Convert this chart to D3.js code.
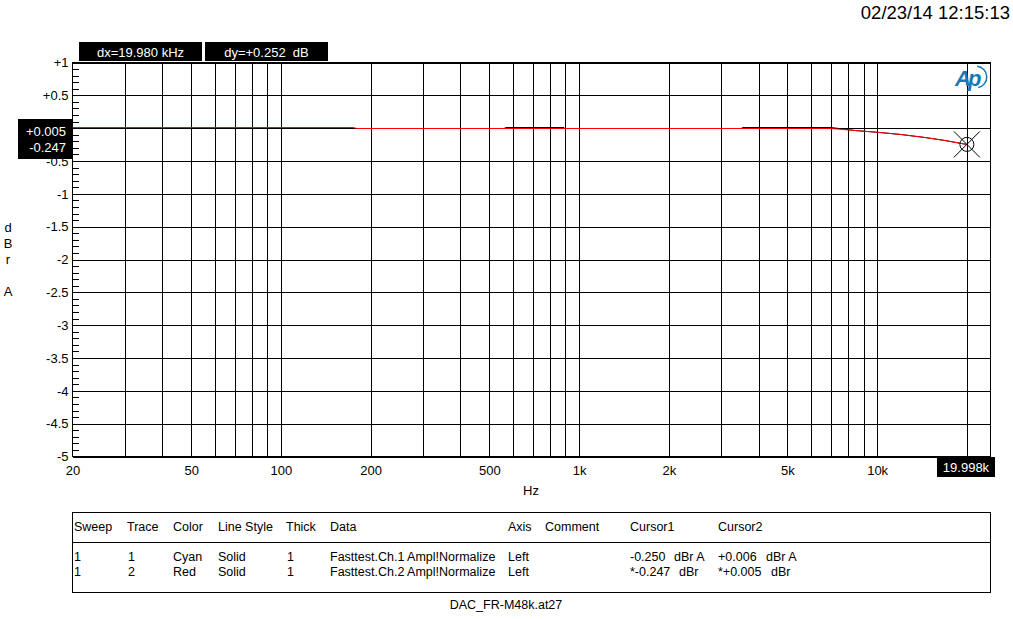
<!DOCTYPE html>
<html><head><meta charset="utf-8">
<script src="https://cdn.jsdelivr.net/npm/d3@7"></script>
<style>
body{margin:0;background:#fff;}
svg{display:block;font-family:"Liberation Sans",Arial,sans-serif;}
</style></head><body>
<svg id="c" width="1013" height="619"></svg>
<script>
// ---- data ----
const freqs = [20, 50, 100, 175, 180, 300, 560, 570, 890, 900, 1500, 3500, 3560, 5000, 7000, 8400, 10200, 12000, 14500, 16900, 19998];
const ch1   = [-0.005, -0.005, -0.005, -0.005, -0.005, -0.005, -0.005, 0.010, 0.010, -0.005, -0.005, -0.005, 0.010, 0.010, 0.010, -0.038, -0.068, -0.096, -0.141, -0.185, -0.250];
const ch2   = [0.010, 0.010, 0.010, 0.010, -0.005, -0.005, -0.005, -0.005, -0.005, -0.005, -0.005, -0.005, -0.005, -0.005, -0.010, -0.040, -0.070, -0.095, -0.140, -0.183, -0.247];
const gridFreqs = [30,40,50,60,70,80,90,100,200,300,400,500,600,700,800,900,1000,2000,3000,4000,5000,6000,7000,8000,9000,10000,20000];
const xLabelFreqs = [20,50,100,200,500,1000,2000,5000,10000];
const xLabels = ["20","50","100","200","500","1k","2k","5k","10k"];
const yTicks = [1,0.5,0,-0.5,-1,-1.5,-2,-2.5,-3,-3.5,-4,-4.5,-5];
const yLabels = ["+1","+0.5","","-0.5","-1","-1.5","-2","-2.5","-3","-3.5","-4","-4.5","-5"];
const yMinor = d3.range(-50, 11).filter(v => v % 5 !== 0).map(v => v / 10);
const cursorFreq = 19998;
const cursorVal = -0.247;
const cursorTexts = ["dx=19.980 kHz", "dy=+0.252  dB"];
const leftBoxTexts = ["+0.005", "-0.247"];
const xCursorText = "19.998k";
const dateText = "02/23/14 12:15:13";
const tableHeader = ["Sweep","Trace","Color","Line Style","Thick","Data","Axis","Comment","Cursor1","Cursor2"];
const tableRows = [
  ["1","1","Cyan","Solid","1","Fasttest.Ch.1 Ampl!Normalize","Left","","-0.250","+0.006"],
  ["1","2","Red","Solid","1","Fasttest.Ch.2 Ampl!Normalize","Left","","*-0.247","*+0.005"]
];
const tableUnits = [["dBr A","dBr A"],["dBr","dBr"]];
const fileName = "DAC_FR-M48k.at27";

// ---- layout ----
const svg = d3.select("#c");
svg.append("rect").attr("width",1013).attr("height",619).attr("fill","#fff");
const L = 72.5, R = 990.5, T = 62.5, B = 456.5;
const x = d3.scaleLog().domain([20, 24000]).range([L, R]);
const y = d3.scaleLinear().domain([-5, 1]).range([B, T]);

// vertical grid
const gx = svg.append("g").attr("transform", `translate(0,${B})`)
  .call(d3.axisBottom(x).tickValues(gridFreqs).tickSize(-(B - T)).tickFormat(""));
gx.select(".domain").remove();
gx.selectAll("line").attr("stroke","#000").attr("shape-rendering","crispEdges");

// x labels
const gxl = svg.append("g").attr("transform", `translate(0,${B})`)
  .call(d3.axisBottom(x).tickValues(xLabelFreqs).tickSize(0).tickPadding(9)
    .tickFormat((d, i) => xLabels[i]));
gxl.select(".domain").remove();
gxl.selectAll("text").attr("font-size", 13).attr("font-family","Liberation Sans, Arial").attr("fill","#000");

// horizontal grid + labels
const gy = svg.append("g").attr("transform", `translate(${L},0)`)
  .call(d3.axisLeft(y).tickValues(yTicks).tickSize(-(R - L)).tickPadding(4)
    .tickFormat((d, i) => yLabels[i]));
gy.select(".domain").remove();
gy.selectAll("line").attr("stroke","#000").attr("shape-rendering","crispEdges");
gy.selectAll("text").attr("font-size", 13).attr("font-family","Liberation Sans, Arial").attr("fill","#000");

// minor ticks
const gm = svg.append("g").attr("transform", `translate(${L},0)`)
  .call(d3.axisLeft(y).tickValues(yMinor).tickSize(-6).tickFormat(""));
gm.select(".domain").remove();
gm.selectAll("line").attr("stroke","#000").attr("shape-rendering","crispEdges");

// frame
svg.append("rect").attr("x", L).attr("y", T).attr("width", R - L).attr("height", B - T)
  .attr("fill","none").attr("stroke","#000").attr("shape-rendering","crispEdges");

// traces (snapped to pixel rows)
const line = d3.line().x((d, i) => Math.round(x(freqs[i]))).y(d => Math.floor(y(d)) + 0.5);
svg.append("path").datum(ch1).attr("d", line).attr("fill","none").attr("stroke","#000")
  .attr("stroke-width",1);
svg.append("path").datum(ch2).attr("d", line).attr("fill","none").attr("stroke","#ff0000")
  .attr("stroke-width",1);

// cursor marker
const cx = x(cursorFreq), cy = y(cursorVal);
const mk = svg.append("g").attr("stroke","#000").attr("fill","none").attr("stroke-width",1);
mk.append("circle").attr("cx", cx).attr("cy", cy).attr("r", 7);
mk.append("line").attr("x1", cx - 13).attr("y1", cy - 13).attr("x2", cx + 13).attr("y2", cy + 13);
mk.append("line").attr("x1", cx - 13).attr("y1", cy + 13).attr("x2", cx + 13).attr("y2", cy - 13);

// logo
const logo = svg.append("g").attr("fill","#1a78b4");
logo.append("text").attr("x", 955).attr("y", 86).attr("font-size", 22).attr("font-style","italic")
  .attr("font-weight","bold").attr("font-family","Liberation Sans, Arial").attr("letter-spacing",-3).text("Ap");
logo.append("path").attr("d", d3.arc()({innerRadius: 10, outerRadius: 11.5, startAngle: 0.1, endAngle: Math.PI - 0.2}))
  .attr("transform","translate(976,77)");

// cursor boxes
const boxes = [[79, 42, 123, 19, cursorTexts[0]], [205, 42, 123, 19, cursorTexts[1]]];
boxes.forEach(b => {
  svg.append("rect").attr("x", b[0]).attr("y", b[1]).attr("width", b[2]).attr("height", b[3]).attr("fill","#000");
  svg.append("text").attr("x", b[0] + b[2] / 2).attr("y", b[1] + 14.5).attr("text-anchor","middle")
    .attr("font-size", 13).attr("fill","#fff").style("white-space","pre").text(b[4]);
});
svg.append("rect").attr("x", 18).attr("y", 119).attr("width", 54).attr("height", 40).attr("fill","#000");
leftBoxTexts.forEach((t, i) => {
  svg.append("text").attr("x", 66).attr("y", 136 + i * 16).attr("text-anchor","end")
    .attr("font-size", 13).attr("fill","#fff").text(t);
});
svg.append("rect").attr("x", 937).attr("y", 457).attr("width", 58).attr("height", 20).attr("fill","#000");
svg.append("text").attr("x", 966).attr("y", 472).attr("text-anchor","middle")
  .attr("font-size", 13).attr("fill","#fff").text(xCursorText);

// date
svg.append("text").attr("x", 1010).attr("y", 19).attr("text-anchor","end").attr("font-size", 18.5).text(dateText);

// axis titles
[["d",232],["B",248],["r",264],["A",296]].forEach(a => {
  svg.append("text").attr("x", 8).attr("y", a[1]).attr("text-anchor","middle").attr("font-size", 13).text(a[0]);
});
svg.append("text").attr("x", 531).attr("y", 495).attr("text-anchor","middle").attr("font-size", 13).text("Hz");

// table
svg.append("rect").attr("x", 72.5).attr("y", 512.5).attr("width", 918).attr("height", 80)
  .attr("fill","none").attr("stroke","#000").attr("shape-rendering","crispEdges");
svg.append("line").attr("x1", 72.5).attr("x2", 990.5).attr("y1", 542.5).attr("y2", 542.5)
  .attr("stroke","#000").attr("shape-rendering","crispEdges");
const colX = [74, 127, 173, 218, 286, 330, 508, 545, 630, 718];
const unitX = [674, 766];
tableHeader.forEach((h, i) => {
  svg.append("text").attr("x", colX[i]).attr("y", 531).attr("font-size", 12.5).text(h);
});
tableRows.forEach((row, r) => {
  row.forEach((c, i) => {
    if (c) svg.append("text").attr("x", colX[i] + (i === 1 || i === 4 ? 1 : 0)).attr("y", 561 + r * 15)
      .attr("font-size", 12.5).text(c);
  });
  tableUnits[r].forEach((u, k) => {
    svg.append("text").attr("x", unitX[k] + (r === 1 ? 5 : 0)).attr("y", 561 + r * 15).attr("font-size", 12.5).text(u);
  });
});
svg.append("text").attr("x", 506).attr("y", 609).attr("text-anchor","middle").attr("font-size", 12.5).text(fileName);
</script>
</body></html>
